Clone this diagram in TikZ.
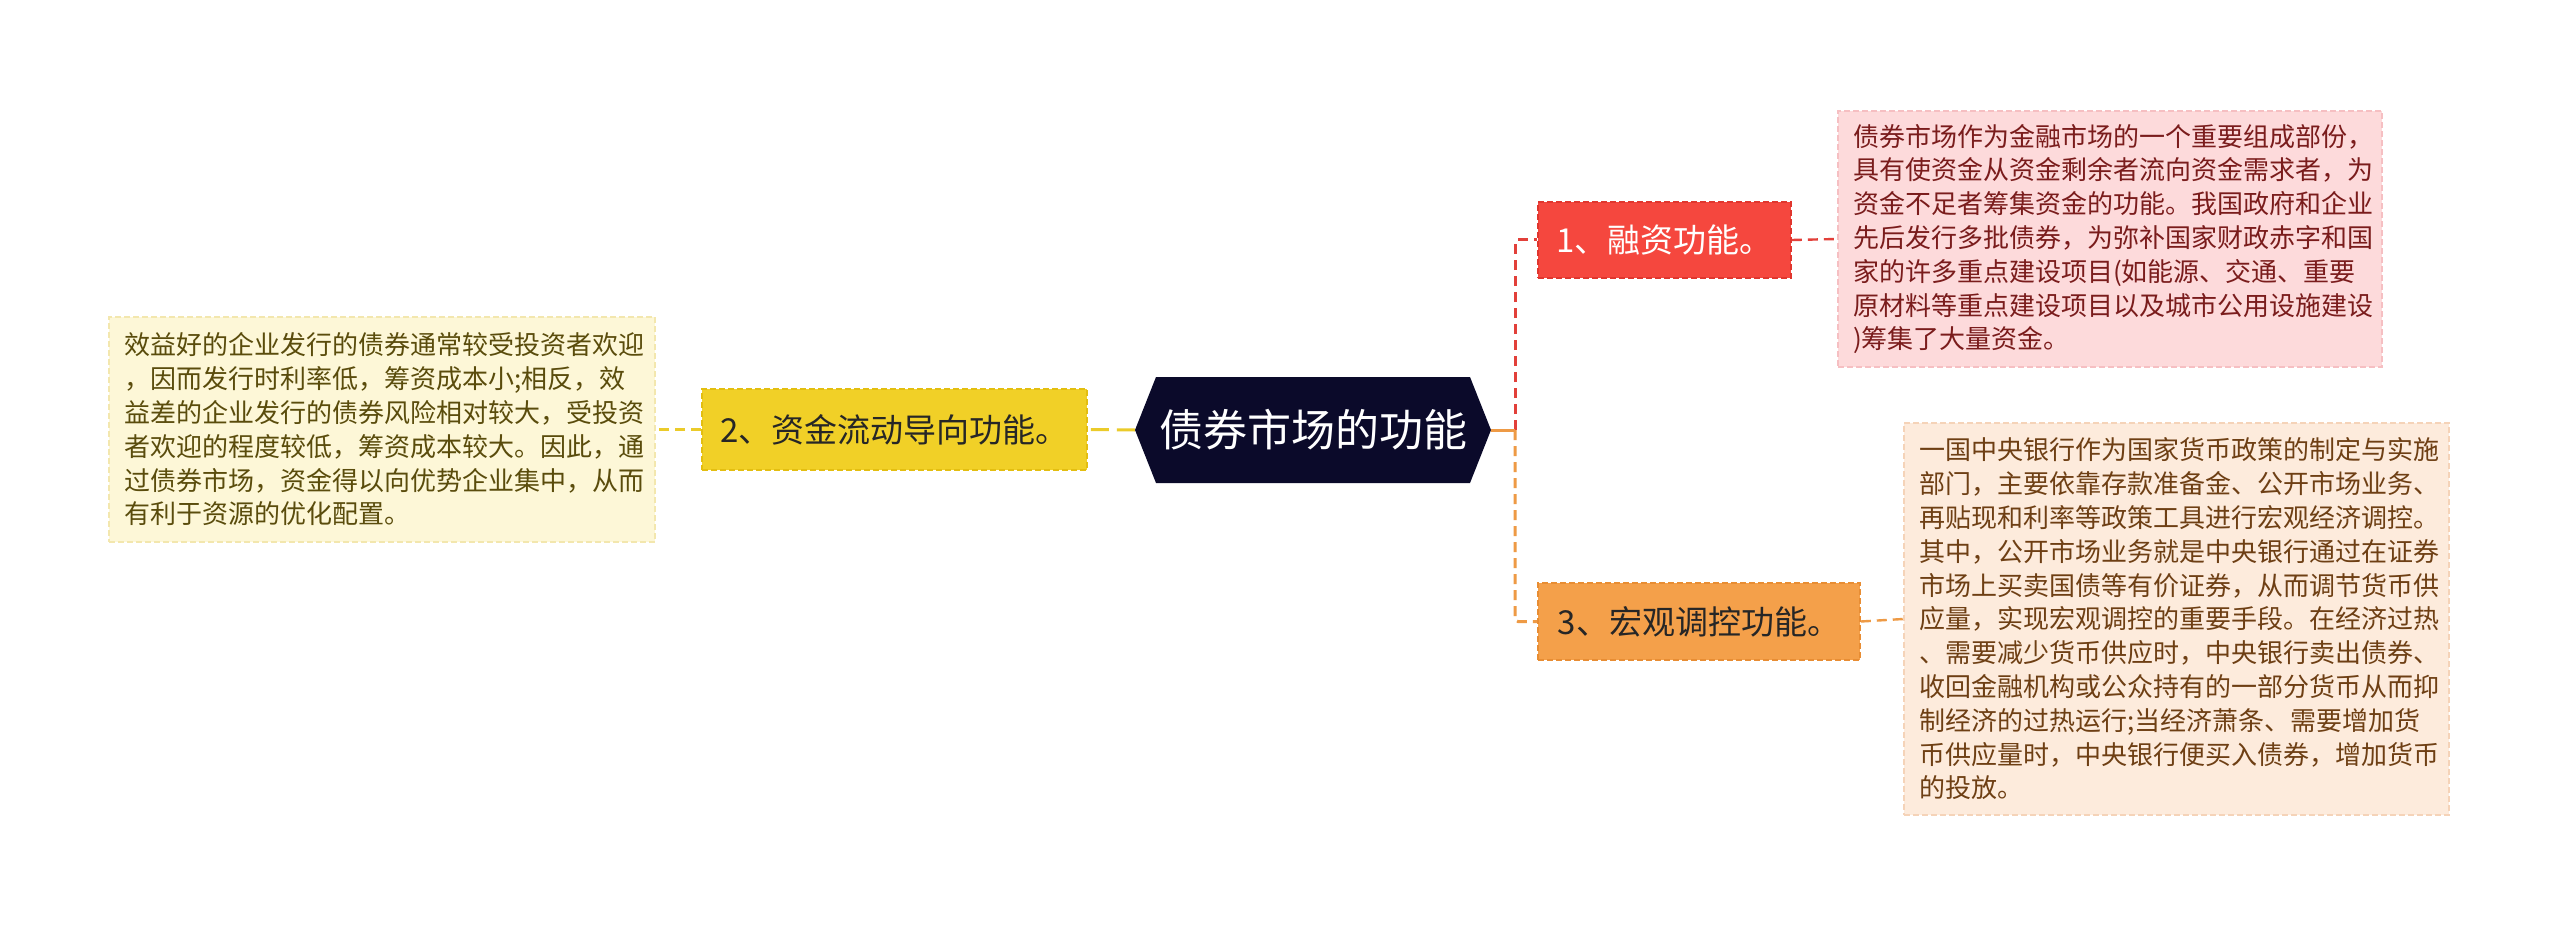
\documentclass[tikz,border=0pt]{standalone}
\usepackage{fontspec}
\newfontfamily\cjk{Noto Sans CJK SC}
\usetikzlibrary{calc}
\definecolor{navy}{HTML}{0B0A2A}
\definecolor{ylw}{HTML}{F1D027}
\definecolor{ylwb}{HTML}{E3BE10}
\definecolor{rd}{HTML}{F5473E}
\definecolor{rdb}{HTML}{E0362E}
\definecolor{org}{HTML}{F4A04A}
\definecolor{orgb}{HTML}{E88D33}
\definecolor{pinkbg}{HTML}{FDDADB}
\definecolor{pinkbd}{HTML}{F6BFC2}
\definecolor{peachbg}{HTML}{FDEBDC}
\definecolor{peachbd}{HTML}{F5D3B8}
\definecolor{creambg}{HTML}{FDF7D7}
\definecolor{creambd}{HTML}{F3E7AE}
\definecolor{txtred}{HTML}{7A1C1C}
\definecolor{txtbrown}{HTML}{6E3F14}
\definecolor{txtolive}{HTML}{5A4C0C}
\definecolor{lnred}{HTML}{E2403A}
\definecolor{lnorg}{HTML}{EE9A45}
\definecolor{lnylw}{HTML}{EBCB2A}
\tikzset{
  topic/.style={draw, dashed, dash pattern=on 6pt off 3pt, line width=1.6pt, inner sep=0pt, font=\cjk\fontsize{33}{38}\selectfont},
  note/.style={draw, dashed, dash pattern=on 6pt off 3pt, line width=1.4pt, inner xsep=15pt, inner ysep=0pt, align=left, anchor=center, font=\cjk\fontsize{26}{33.8}\selectfont},
  conn/.style={line width=3pt, dash pattern=on 10pt off 6pt, rounded corners=3pt},
}
\begin{document}
\begin{tikzpicture}[x=1pt,y=-1pt]
\useasboundingbox[fill=white] (0,0) rectangle (2560,928);
% central node
\coordinate (cc) at (1313,430);
\fill[navy] ($(cc)+(-178,0)$) -- ($(cc)+(-157,-53)$) -- ($(cc)+(157,-53)$) -- ($(cc)+(178,0)$) -- ($(cc)+(157,53)$) -- ($(cc)+(-157,53)$) -- cycle;
\node[minimum width=356pt, minimum height=106pt, inner sep=0pt, text=white, font=\cjk\fontsize{44}{50}\selectfont] (c) at (cc) {债券市场的功能};
% topics
\node[topic, fill=rd, draw=rdb, text=white, minimum width=253pt, minimum height=76pt] (n1) at (1664.5,240) {1、融资功能。};
\node[topic, fill=ylw, draw=ylwb, text=black!85, minimum width=385pt, minimum height=81pt] (n2) at (894.5,429.5) {2、资金流动导向功能。};
\node[topic, fill=org, draw=orgb, text=black!85, minimum width=322pt, minimum height=77pt] (n3) at (1699,621.5) {3、宏观调控功能。};
% notes
\node[note, fill=pinkbg, draw=pinkbd, text=txtred, minimum width=544pt, minimum height=256pt, text width=514pt] (t1) at (2110,239) {债券市场作为金融市场的一个重要组成部份，\\具有使资金从资金剩余者流向资金需求者，为\\资金不足者筹集资金的功能。我国政府和企业\\先后发行多批债券，为弥补国家财政赤字和国\\家的许多重点建设项目(如能源、交通、重要\\原材料等重点建设项目以及城市公用设施建设\\)筹集了大量资金。};
\node[note, fill=creambg, draw=creambd, text=txtolive, minimum width=546pt, minimum height=225pt, text width=516pt] (t2) at (382,429.5) {效益好的企业发行的债券通常较受投资者欢迎\\，因而发行时利率低，筹资成本小;相反，效\\益差的企业发行的债券风险相对较大，受投资\\者欢迎的程度较低，筹资成本较大。因此，通\\过债券市场，资金得以向优势企业集中，从而\\有利于资源的优化配置。};
\node[note, fill=peachbg, draw=peachbd, text=txtbrown, minimum width=545pt, minimum height=392pt, text width=515pt] (t3) at (2176.5,619) {一国中央银行作为国家货币政策的制定与实施\\部门，主要依靠存款准备金、公开市场业务、\\再贴现和利率等政策工具进行宏观经济调控。\\其中，公开市场业务就是中央银行通过在证券\\市场上买卖国债等有价证券，从而调节货币供\\应量，实现宏观调控的重要手段。在经济过热\\、需要减少货币供应时，中央银行卖出债券、\\收回金融机构或公众持有的一部分货币从而抑\\制经济的过热运行;当经济萧条、需要增加货\\币供应量时，中央银行便买入债券，增加货币\\的投放。};
% connectors
\coordinate (j) at (1515,430);
\draw[conn, lnred] (j) |- (n1.west);
\draw[conn, lnorg] (j) |- (n3.west);
\draw[line width=3pt, lnorg] (c.east) -- (j);
\draw[conn, lnylw, dash pattern=on 18pt off 8pt] (c.west) -- (n2.east);
\draw[conn, lnylw, line width=2.4pt] (n2.west) -- (t2.east);
\draw[conn, lnred, line width=2.4pt] (n1.east) -- (t1.west);
\draw[conn, lnorg, line width=2.4pt] (n3.east) -- (t3.west);
\end{tikzpicture}
\end{document}
